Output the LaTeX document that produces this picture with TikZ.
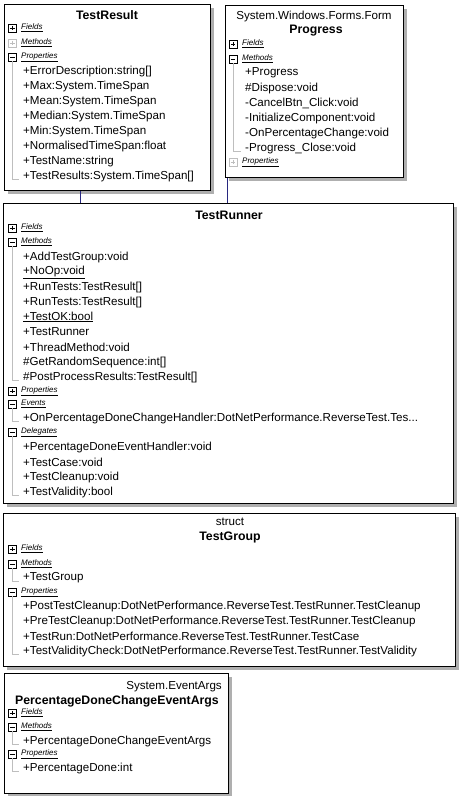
\documentclass[tikz,border=0pt]{standalone}
\usepackage{fontspec}
\setmainfont{Liberation Sans}
\definecolor{connblue}{RGB}{40,40,128}
\definecolor{shadowgray}{RGB}{175,175,175}
\definecolor{treegray}{RGB}{190,190,190}
\begin{document}
\begin{tikzpicture}[x=1pt,y=-1pt,
  box/.style={draw=black, line width=1pt, fill=white, inner sep=0, anchor=north west,
    preaction={fill=shadowgray, transform canvas={xshift=3pt,yshift=-3pt}}},
  ttl/.style={inner sep=0, font=\fontsize{12.3}{14}\selectfont\bfseries},
  stereo/.style={inner sep=0, font=\fontsize{11.6}{13}\selectfont},
  item/.style={anchor=west, inner sep=0, font=\fontsize{11.6}{13}\selectfont},
  hdr/.style={anchor=west, inner sep=0, font=\fontsize{8}{9}\selectfont\itshape},
  pmbase/.style={draw, minimum size=8pt, inner sep=0, line width=0.7pt, fill=white},
  plusb/.style={pmbase, path picture={
    \draw[line width=0.7pt] ([xshift=1.8pt]path picture bounding box.west) -- ([xshift=-1.8pt]path picture bounding box.east);
    \draw[line width=0.7pt] ([yshift=-1.8pt]path picture bounding box.north) -- ([yshift=1.8pt]path picture bounding box.south);}},
  minusb/.style={pmbase, path picture={
    \draw[line width=0.7pt] ([xshift=1.8pt]path picture bounding box.west) -- ([xshift=-1.8pt]path picture bounding box.east);}},
  disb/.style={pmbase, draw=treegray, path picture={
    \draw[treegray, line width=0.7pt] ([xshift=1.8pt]path picture bounding box.west) -- ([xshift=-1.8pt]path picture bounding box.east);
    \draw[treegray, line width=0.7pt] ([yshift=-1.8pt]path picture bounding box.north) -- ([yshift=1.8pt]path picture bounding box.south);}},
  tree/.style={draw=treegray, line width=0.8pt},
  conn/.style={draw=connblue, line width=1pt}]
\useasboundingbox (0,0) rectangle (467,796);
\fill[white] (0,0) rectangle (467,796);

% ---------- TestResult ----------
\node[box, minimum width=206pt, minimum height=186pt] (tr) at (4,4) {};
\node[ttl] (trT) at (107,15) {TestResult};
\node[plusb] (trFb) at (12.5,28) {}; \node[hdr] (trF) at (21,28) {\underline{Fields}};
\node[disb] (trMb) at (12.5,43) {}; \node[hdr] (trM) at (21,43) {\underline{Methods}};
\node[minusb] (trPb) at (12.5,57) {}; \node[hdr] (trP) at (21,57) {\underline{Properties}};
\foreach \t [count=\i] in {+ErrorDescription:string[], +Max:System.TimeSpan, +Mean:System.TimeSpan,
  +Median:System.TimeSpan, +Min:System.TimeSpan, +NormalisedTimeSpan:float, +TestName:string,
  +TestResults:System.TimeSpan[]}
  \node[item] (tr\i) at (23,56+15*\i) {\t};
\draw[tree] (trPb.south) |- ([xshift=-4pt,yshift=-3pt]tr8.west);

% ---------- Progress ----------
\node[box, minimum width=178pt, minimum height=172pt] (pg) at (225,5) {};
\node[stereo] (pgS) at (314,16) {System.Windows.Forms.Form};
\node[ttl] (pgT) at (316,31) {Progress};
\node[plusb] (pgFb) at (233,44) {}; \node[hdr] (pgF) at (242,44) {\underline{Fields}};
\node[minusb] (pgMb) at (233,59) {}; \node[hdr] (pgM) at (242,59) {\underline{Methods}};
\foreach \t [count=\i] in {+Progress, \#Dispose:void, -CancelBtn\_Click:void,
  -InitializeComponent:void, -OnPercentageChange:void, -Progress\_Close:void}
  \node[item] (pg\i) at (245,58+15*\i) {\t};
\draw[tree] (pgMb.south) |- ([xshift=-4pt,yshift=-3pt]pg6.west);
\node[disb] (pgPb) at (233,162) {}; \node[hdr] (pgP) at (242,162) {\underline{Properties}};

% ---------- TestRunner ----------
\node[box, minimum width=450pt, minimum height=300pt] (rn) at (3,203) {};
\node[ttl] (rnT) at (229,215) {TestRunner};
\node[plusb] (rnFb) at (12.5,228) {}; \node[hdr] (rnF) at (21,228) {\underline{Fields}};
\node[minusb] (rnMb) at (12.5,242) {}; \node[hdr] (rnM) at (21,242) {\underline{Methods}};
\foreach \t [count=\i] in {+AddTestGroup:void, \underline{+NoOp:void}, +RunTests:TestResult[],
  +RunTests:TestResult[], \underline{+TestOK:bool}, +TestRunner, +ThreadMethod:void,
  \#GetRandomSequence:int[], \#PostProcessResults:TestResult[]}
  \node[item] (rn\i) at (23,242+15*\i) {\t};
\draw[tree] (rnMb.south) |- ([xshift=-4pt,yshift=-3pt]rn9.west);
\node[plusb] (rnPb) at (12.5,391) {}; \node[hdr] (rnP) at (21,391) {\underline{Properties}};
\node[minusb] (rnEb) at (12.5,404) {}; \node[hdr] (rnE) at (21,404) {\underline{Events}};
\node[item] (rnE1) at (23,418) {+OnPercentageDoneChangeHandler:DotNetPerformance.ReverseTest.Tes...};
\draw[tree] (rnEb.south) |- ([xshift=-4pt,yshift=-3pt]rnE1.west);
\node[minusb] (rnDb) at (12.5,432) {}; \node[hdr] (rnD) at (21,432) {\underline{Delegates}};
\foreach \t [count=\i] in {+PercentageDoneEventHandler:void, +TestCase:void,
  +TestCleanup:void, +TestValidity:bool}
  \node[item] (rnD\i) at (23,432+15*\i) {\t};
\draw[tree] (rnDb.south) |- ([xshift=-4pt,yshift=-3pt]rnD4.west);

% ---------- TestGroup ----------
\node[box, minimum width=452pt, minimum height=153pt] (tg) at (3,513) {};
\node[stereo] (tgS) at (230,522) {struct};
\node[ttl] (tgT) at (230,537) {TestGroup};
\node[plusb] (tgFb) at (12.5,549) {}; \node[hdr] (tgF) at (21,549) {\underline{Fields}};
\node[minusb] (tgMb) at (12.5,564) {}; \node[hdr] (tgM) at (21,564) {\underline{Methods}};
\node[item] (tgM1) at (23,578) {+TestGroup};
\draw[tree] (tgMb.south) |- ([xshift=-4pt,yshift=-3pt]tgM1.west);
\node[minusb] (tgPb) at (12.5,592) {}; \node[hdr] (tgP) at (21,592) {\underline{Properties}};
\foreach \t [count=\i] in {+PostTestCleanup:DotNetPerformance.ReverseTest.TestRunner.TestCleanup,
  +PreTestCleanup:DotNetPerformance.ReverseTest.TestRunner.TestCleanup,
  +TestRun:DotNetPerformance.ReverseTest.TestRunner.TestCase,
  +TestValidityCheck:DotNetPerformance.ReverseTest.TestRunner.TestValidity}
  \node[item] (tgP\i) at (23,591+15*\i) {\t};
\draw[tree] (tgPb.south) |- ([xshift=-4pt,yshift=-3pt]tgP4.west);

% ---------- PercentageDoneChangeEventArgs ----------
\node[box, minimum width=224pt, minimum height=120pt] (pd) at (4,673) {};
\node[stereo, anchor=east] (pdS) at (222,687) {System.EventArgs};
\node[ttl] (pdT) at (117,701) {PercentageDoneChangeEventArgs};
\node[plusb] (pdFb) at (12.5,713) {}; \node[hdr] (pdF) at (21,713) {\underline{Fields}};
\node[minusb] (pdMb) at (12.5,727) {}; \node[hdr] (pdM) at (21,727) {\underline{Methods}};
\node[item] (pdM1) at (23,741) {+PercentageDoneChangeEventArgs};
\draw[tree] (pdMb.south) |- ([xshift=-4pt,yshift=-3pt]pdM1.west);
\node[minusb] (pdPb) at (12.5,754) {}; \node[hdr] (pdP) at (21,754) {\underline{Properties}};
\node[item] (pdP1) at (23,768) {+PercentageDone:int};
\draw[tree] (pdPb.south) |- ([xshift=-4pt,yshift=-3pt]pdP1.west);

% ---------- connectors ----------
\draw[conn] ([xshift=76pt]tr.south west) -- ([xshift=76pt]tr.south west |- rn.north);
\draw[conn] ([xshift=2pt]pg.south west) -- ([xshift=2pt]pg.south west |- rn.north);
\end{tikzpicture}
\end{document}
